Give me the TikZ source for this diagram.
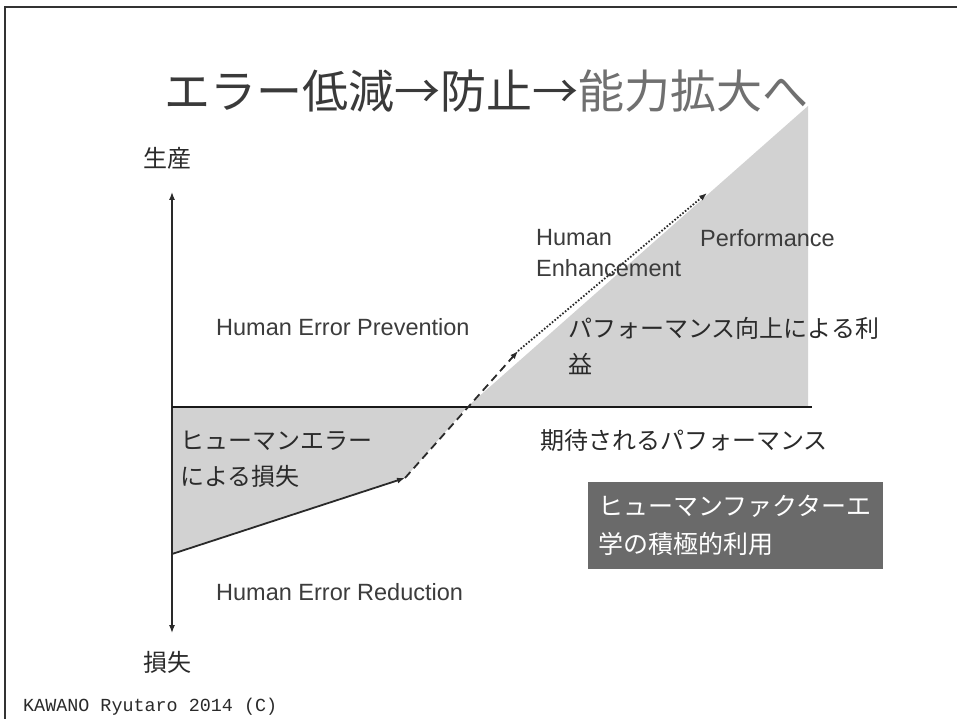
\documentclass[tikz,border=0pt]{standalone}
\usepackage{fontspec}
\setmainfont{Liberation Sans}
\newfontfamily\jp{Noto Sans CJK JP}
\newfontfamily\cour{Liberation Mono}
\usetikzlibrary{arrows.meta}
\definecolor{shadegray}{HTML}{D2D2D2}
\definecolor{boxgray}{HTML}{6A6A6A}
\definecolor{titledark}{HTML}{3A3A3A}
\definecolor{titlelight}{HTML}{707070}
\definecolor{inkgray}{HTML}{2A2A2A}
\definecolor{labelgray}{HTML}{3C3C3C}
\begin{document}
\begin{tikzpicture}[x=1pt,y=-1pt,
  txt/.style={inner sep=0pt, anchor=west, text=inkgray, align=left},
  jptext/.style={txt, font=\jp\fontsize{24}{36}\selectfont},
  entext/.style={txt, text=labelgray, font=\fontsize{23.5}{29}\selectfont},
  axisline/.style={line width=1.3pt, draw=inkgray},
  tip/.style={-{Latex[length=8pt,width=6pt]}},
  hfbox/.style={fill=boxgray, text=white, anchor=west, inner xsep=10pt, inner ysep=0pt,
     minimum width=295pt, minimum height=87pt, align=left, text width=275pt,
     font=\jp\fontsize{25}{38}\selectfont}
]
\useasboundingbox (0,0) rectangle (957,719);
\fill[white] (0,0) rectangle (957,719);

% frame
\draw[line width=2pt, draw=black!80] (5,719) -- (5,7) -- (957,7);

% coordinates
\coordinate (o) at (172,407);
\coordinate (lossstart) at (172,554);
\coordinate (lossend) at (405,478);
\coordinate (cross) at (467,407);
\coordinate (dashend) at (518,351);
\coordinate (dotend) at (707,193);
\coordinate (peak) at (808,106);
\coordinate (peakbase) at (808,407);
\coordinate (baseend) at (812,407);
\coordinate (ytop) at (172,192);
\coordinate (ybot) at (172,633);

% shaded regions
\fill[shadegray] (o) -- (cross) -- (lossend) -- (lossstart) -- cycle;
\fill[shadegray] (cross) -- (peak) -- (peakbase) -- cycle;

% axes
\draw[axisline, {Latex[length=8pt,width=6pt]}-{Latex[length=8pt,width=6pt]}] (ytop) -- (ybot);
\draw[line width=2pt, draw=black!90] (o) -- (baseend);

% path arrows
\draw[line width=1.8pt, draw=inkgray, tip] (lossstart) -- (lossend);
\draw[line width=1.8pt, draw=inkgray, dash pattern=on 8pt off 5pt, tip] (lossend) -- (dashend);
\draw[line width=1.8pt, draw=inkgray, dash pattern=on 1.6pt off 1.8pt, tip] (dashend) -- (dotend);

% title
\node[inner sep=0pt, font=\jp\fontsize{46}{50}\selectfont] (title) at (486,91)
  {\textcolor{titledark}{エラー低減→防止→}\textcolor{titlelight}{能力拡大へ}};

% axis labels
\node[jptext, anchor=center] (prod) at (167,158) {生産};
\node[jptext, anchor=center] (loss) at (167,662) {損失};

% English labels
\node[entext] (prev) at (216,327) {Human Error Prevention};
\node[entext] (red) at (216,592) {Human Error Reduction};
\node[entext] (hum) at (536,238) {Human};
\node[entext] (perf) at (700,238) {Performance};
\node[entext] (enh) at (536,268) {Enhancement};

% Japanese labels
\node[jptext] (gain) at (568,346) {パフォーマンス向上による利\\益};
\node[jptext] (hel) at (180,459) {ヒューマンエラー\\による損失};
\node[jptext] (exp) at (540,440) {期待されるパフォーマンス};

% dark box
\node[hfbox] (hf) at (588,525) {ヒューマンファクターエ\\学の積極的利用};

% credit
\node[inner sep=0pt, anchor=west, text=inkgray, font=\cour\fontsize{18.4}{20}\selectfont] (credit) at (23,707) {KAWANO Ryutaro 2014 (C)};
\end{tikzpicture}
\end{document}
